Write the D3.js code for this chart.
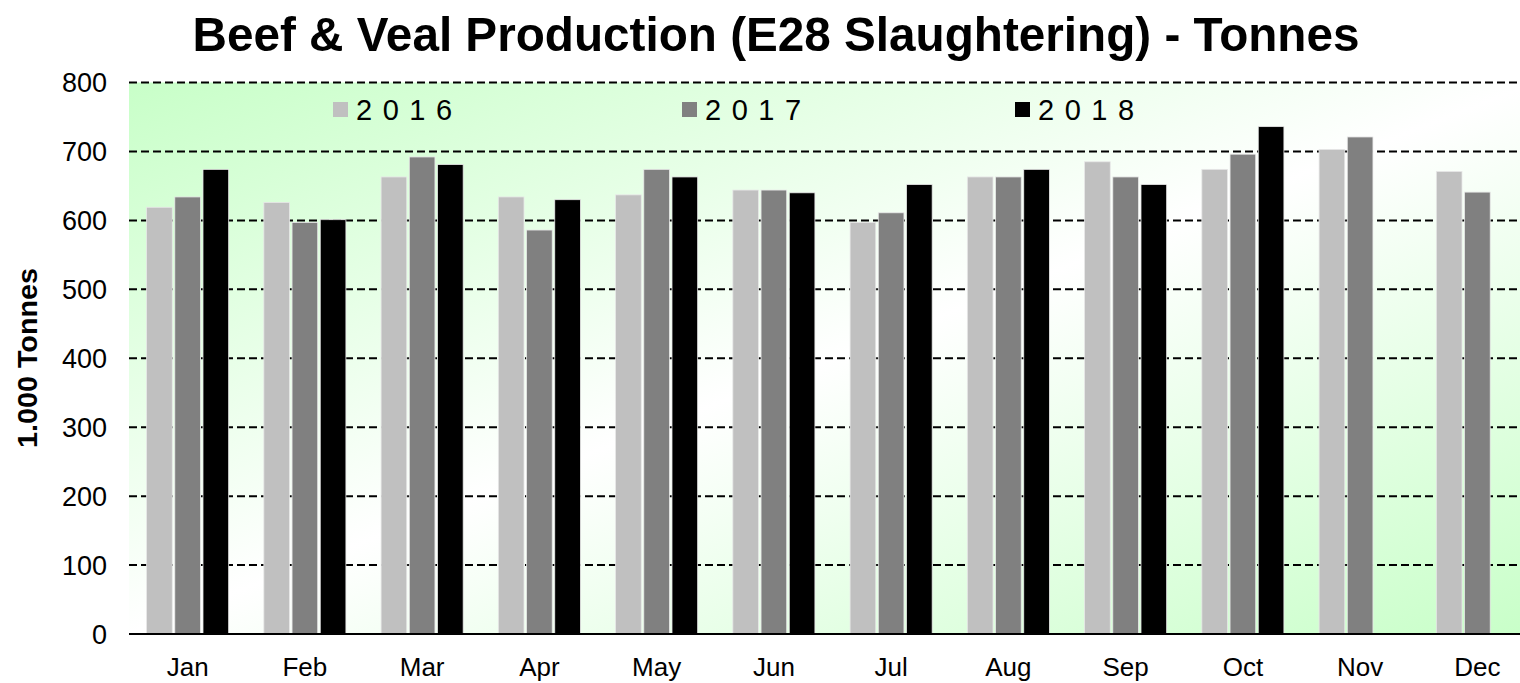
<!DOCTYPE html>
<html>
<head>
<meta charset="utf-8">
<script src="https://cdn.jsdelivr.net/npm/d3@7"></script>
<style>
  html, body { margin: 0; padding: 0; background: #ffffff; overflow: hidden; }
  svg { display: block; font-family: "Liberation Sans", Arial, sans-serif; }
</style>
</head>
<body>
<svg id="chart" width="1520" height="683"></svg>
<script>
// ---- data ----
const months = ["Jan","Feb","Mar","Apr","May","Jun","Jul","Aug","Sep","Oct","Nov","Dec"];
const years = ["2016","2017","2018"];
const values2016 = [619, 626, 663, 634, 637, 644, 597, 663, 685, 674, 703, 671];
const values2017 = [634, 597, 692, 586, 674, 644, 611, 663, 663, 696, 721, 641];
const values2018 = [674, 601, 681, 630, 663, 640, 652, 674, 652, 736, null, null];
const yTicks = [0, 100, 200, 300, 400, 500, 600, 700, 800];
const colors = ["#c0c0c0", "#808080", "#000000"];
const titleText = "Beef & Veal Production (E28 Slaughtering) - Tonnes";
const yTitle = "1.000 Tonnes";

const series = [values2016, values2017, values2018];
const rows = months.map((m, i) => ({ month: m, vals: years.map((yr, j) => ({ year: yr, idx: j, v: series[j][i] })) }));

// ---- layout ----
const svg = d3.select("#chart");
const pLeft = 129, pRight = 1536, pTop = 82.5, pBottom = 634;

const x0 = d3.scaleBand().domain(months).range([pLeft, pRight]).paddingInner(0.3).paddingOuter(0.15);
const x1 = d3.scaleBand().domain(years).range([0, x0.bandwidth()]).paddingInner(0.09);
const y = d3.scaleLinear().domain([0, 800]).range([pBottom, pTop]);

// background gradient
const defs = svg.append("defs");
const grad = defs.append("linearGradient").attr("id", "bg")
  .attr("x1", 0).attr("y1", 0).attr("x2", 1).attr("y2", 1);
grad.append("stop").attr("offset", "0%").attr("stop-color", "#c8ffc8");
grad.append("stop").attr("offset", "50%").attr("stop-color", "#ffffff");
grad.append("stop").attr("offset", "100%").attr("stop-color", "#c8ffc8");

svg.append("rect").attr("x", pLeft).attr("y", pTop).attr("width", pRight - pLeft).attr("height", pBottom - pTop)
  .attr("fill", "url(#bg)");

// gridlines
svg.append("g").selectAll("line").data(yTicks.filter(t => t > 0)).join("line")
  .attr("x1", pLeft).attr("x2", pRight)
  .attr("y1", d => y(d)).attr("y2", d => y(d))
  .attr("stroke", "#000").attr("stroke-width", 2).attr("stroke-dasharray", "8,4");

// bars
const groups = svg.append("g").selectAll("g").data(rows).join("g")
  .attr("transform", d => `translate(${x0(d.month)},0)`);
groups.selectAll("rect").data(d => d.vals.filter(e => e.v != null)).join("rect")
  .attr("x", d => x1(d.year))
  .attr("width", x1.bandwidth())
  .attr("y", d => y(d.v))
  .attr("height", d => y(0) - y(d.v))
  .attr("fill", d => colors[d.idx])
  .attr("stroke", "#e8e8e8").attr("stroke-width", 0.8);

// x axis line
svg.append("line").attr("x1", pLeft).attr("x2", pRight).attr("y1", pBottom).attr("y2", pBottom)
  .attr("stroke", "#000").attr("stroke-width", 2);

// y axis labels
const yAxis = d3.axisLeft(y).tickValues(yTicks).tickSize(0).tickPadding(0);
const yg = svg.append("g").attr("transform", `translate(107,0)`).call(yAxis);
yg.select(".domain").remove();
yg.selectAll("text").attr("font-size", 27).attr("fill", "#000")
  .attr("font-family", "'Liberation Sans', Arial, sans-serif").attr("dy", "0.35em");

// x axis labels
const xAxis = d3.axisBottom(x0).tickSize(0).tickPadding(0);
const xg = svg.append("g").attr("transform", `translate(0,667)`).call(xAxis);
xg.select(".domain").remove();
xg.selectAll("text").attr("font-size", 26).attr("fill", "#000")
  .attr("font-family", "'Liberation Sans', Arial, sans-serif").attr("dy", "0.35em");

// title
svg.append("text").attr("x", 776).attr("y", 51).attr("text-anchor", "middle")
  .attr("font-size", 49).attr("font-weight", "bold").attr("fill", "#000")
  .attr("textLength", 1167).attr("lengthAdjust", "spacingAndGlyphs")
  .text(titleText);

// y title
svg.append("text").attr("transform", `translate(37,358) rotate(-90)`)
  .attr("text-anchor", "middle").attr("font-size", 27).attr("font-weight", "bold").attr("fill", "#000")
  .attr("textLength", 180).attr("lengthAdjust", "spacingAndGlyphs")
  .text(yTitle);

// legend
const legendX = d3.scaleOrdinal().domain(years).range([333, 682, 1015]);
const lg = svg.append("g").selectAll("g").data(years).join("g")
  .attr("transform", d => `translate(${legendX(d)},102)`);
lg.append("rect").attr("width", 15).attr("height", 15).attr("fill", (d, i) => colors[i]);
lg.append("text").attr("x", 23).attr("y", 18).attr("font-size", 29).attr("letter-spacing", 10.5)
  .attr("fill", "#000").text(d => d);
</script>
</body>
</html>
